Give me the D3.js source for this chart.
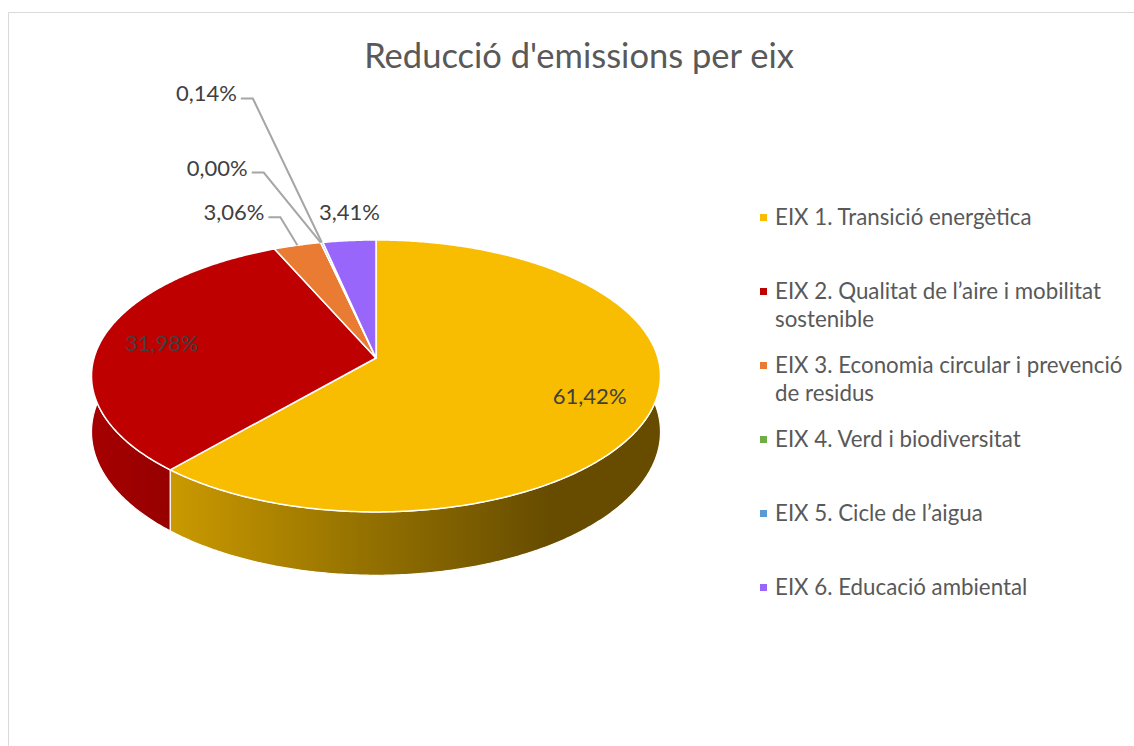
<!DOCTYPE html>
<html>
<head>
<meta charset="utf-8">
<script src="https://cdn.jsdelivr.net/npm/d3@7"></script>
<style>
  html, body { margin: 0; padding: 0; background: #fff; }
  svg { display: block; font-family: "Lato", "Open Sans", sans-serif; }
</style>
</head>
<body>
<div id="chart"></div>
<script>
// Data
const categories = [
    ["EIX 1. Transició energètica"],
    ["EIX 2. Qualitat de l\u2019aire i mobilitat", "sostenible"],
    ["EIX 3. Economia circular i prevenció", "de residus"],
    ["EIX 4. Verd i biodiversitat"],
    ["EIX 5. Cicle de l\u2019aigua"],
    ["EIX 6. Educació ambiental"]
];
const values = [61.42, 31.98, 3.06, 0.00, 0.14, 3.41];
const labels = ["61,42%", "31,98%", "3,06%", "0,00%", "0,14%", "3,41%"];
const colors = ["#f8bd00", "#bf0000", "#e97c32", "#70ad47", "#5b9bd5", "#9966fb"];
const title = "Reducció d'emissions per eix";

// layout
const W = 1134, H = 746;
const cx = 376, cy = 358, RX = 282, RY = 133.6, K = 0.132, DEPTH = 55;

// simple perspective for the tilted disc: phi clockwise from 12 o'clock
function proj(phi, f, z) {
    const sx = Math.sin(phi) * f;
    const d = -Math.cos(phi) * f;
    const s = 1 / (1 - K * d);
    return [cx + RX * sx * s, cy + RY * d * s + z * DEPTH * s];
}
function arcPoints(a, b, f, z) {
    const n = Math.max(2, Math.ceil(Math.abs(b - a) / 0.01));
    return d3.range(n + 1).map(i => proj(a + (b - a) * i / n, f, z));
}

const svg = d3.select("#chart").append("svg")
    .attr("width", W)
    .attr("height", H);

// chart area border
svg.append("path")
    .attr("d", "M8.5," + H + "V12.5H" + W)
    .attr("fill", "none")
    .attr("stroke", "#d9d9d9")
    .attr("stroke-width", 1);

svg.append("text")
    .attr("x", 579)
    .attr("y", 68)
    .attr("text-anchor", "middle")
    .attr("fill", "#595959")
    .style("font-size", "34.5px")
    .text(title);

const pie = d3.pie().sort(null).value(d => d);
const arcs = pie(values);
const line = d3.line();

// side wall gradients
const defs = svg.append("defs");
const wallStops = [
    [["#ca9900", 0], ["#957200", 0.5], ["#674c00", 1]],
    [["#a50000", 0], ["#960000", 1]]
];
wallStops.forEach(function(stops, i) {
    const g = defs.append("linearGradient")
        .attr("id", "wall" + i)
        .attr("gradientUnits", "userSpaceOnUse")
        .attr("x1", i === 0 ? 172 : cx - RX)
        .attr("x2", i === 0 ? cx + 0.62 * RX : 175)
        .attr("y1", 0).attr("y2", 0);
    stops.forEach(s => g.append("stop").attr("offset", s[1]).attr("stop-color", s[0]));
});

// walls (front half only)
const frontA = Math.PI / 2 - 0.25, frontB = 3 * Math.PI / 2 + 0.25;
const walls = svg.append("g");
arcs.forEach(function(a, i) {
    const s = Math.max(a.startAngle, frontA), e = Math.min(a.endAngle, frontB);
    if (e - s <= 0.0001) return;
    const pts = arcPoints(s, e, 1, 0).concat(arcPoints(e, s, 1, 1));
    walls.append("path")
        .attr("d", line(pts) + "Z")
        .attr("fill", i < 2 ? "url(#wall" + i + ")" : d3.color(colors[i]).darker(0.8))
        .attr("stroke", "#fff")
        .attr("stroke-width", 1.2)
        .attr("stroke-linejoin", "round");
});

// top faces
svg.append("g").selectAll("path")
    .data(arcs)
    .join("path")
    .attr("d", a => line([[cx, cy]].concat(arcPoints(a.startAngle, a.endAngle, 1, 0))) + "Z")
    .attr("fill", (a, i) => colors[i])
    .attr("stroke", "#fff")
    .attr("stroke-width", 1.5)
    .attr("stroke-linejoin", "round");

// data labels
// inside labels for large slices, outside labels with leaders for the small ones
const labelG = svg.append("g").attr("fill", "#404040").style("font-size", "22px");
const outside = {
    2: {dx: -33, dy: -25, lead: true},
    3: {dx: -73, dy: -67, lead: true},
    4: {dx: -85, dy: -141, lead: true},
    5: {dx: 0, dy: -21, lead: false}
};
arcs.forEach(function(a, i) {
    const mid = (a.startAngle + a.endAngle) / 2;
    if (!outside[i]) {
        const p = proj(mid, 0.78, 0);
        labelG.append("text")
            .attr("x", p[0]).attr("y", p[1] + 8)
            .attr("text-anchor", "middle")
            .text(labels[i]);
        return;
    }
    const o = outside[i];
    const rim = proj(mid, 1, 0);
    if (!o.lead) {
        labelG.append("text")
            .attr("x", rim[0]).attr("y", rim[1] + o.dy)
            .attr("text-anchor", "middle")
            .text(labels[i]);
        return;
    }
    const tx = rim[0] + o.dx, ty = rim[1] + o.dy;
    labelG.append("text")
        .attr("x", tx).attr("y", ty)
        .attr("text-anchor", "end")
        .text(labels[i]);
    svg.append("path")
        .attr("d", line([[tx + 4, ty - 3], [tx + 16, ty - 3], rim]))
        .attr("fill", "none")
        .attr("stroke", "#a6a6a6")
        .attr("stroke-width", 2);
});

// legend
const legend = svg.append("g")
    .attr("transform", "translate(760,225)")
    .style("font-size", "22.3px")
    .attr("fill", "#595959");
categories.forEach(function(lines, i) {
    const g = legend.append("g").attr("transform", "translate(0," + (i * 74) + ")");
    g.append("rect")
        .attr("x", 0).attr("y", -11)
        .attr("width", 7).attr("height", 7)
        .attr("fill", colors[i]);
    lines.forEach(function(t, j) {
        g.append("text")
            .attr("x", 15).attr("y", j * 28)
            .text(t);
    });
});
</script>
</body>
</html>
